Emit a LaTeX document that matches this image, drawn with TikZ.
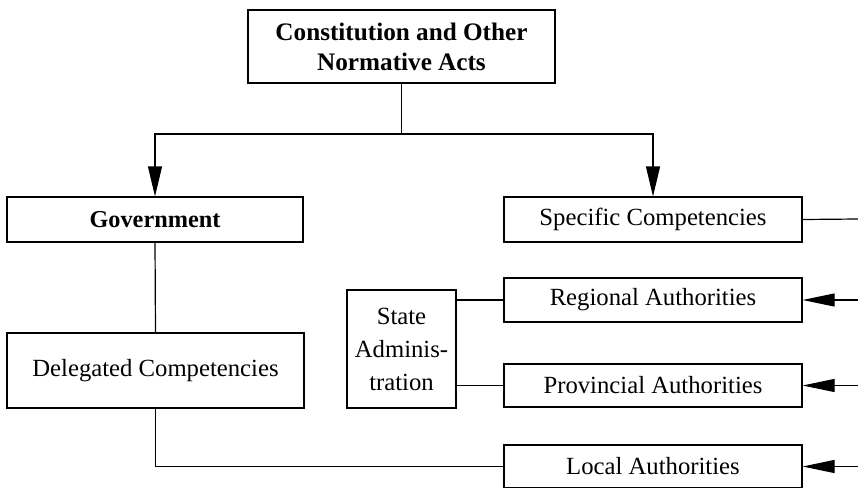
\documentclass[tikz,border=0pt]{standalone}
\usepackage{fontspec}
\setmainfont{Liberation Serif}
\usetikzlibrary{arrows.meta}
\begin{document}
\begin{tikzpicture}[x=1pt,y=-1pt,
  every node/.style={font=\fontsize{24.7}{30}\selectfont},
  box/.style={draw, line width=1.2pt, inner sep=0pt, align=center},
  link/.style={line width=1.2pt},
  down/.style={link, -{Triangle[length=30pt,width=14pt]}},
  feed/.style={link, -{Triangle[length=32pt,width=13pt]}}]
  \useasboundingbox (0,0) rectangle (858,487);

  % boxes
  \node[box, minimum width=307pt, minimum height=73pt, font=\bfseries\fontsize{25.2}{30}\selectfont]
    (top) at (401.5,46.5) {Constitution and Other\\Normative Acts};
  \node[box, minimum width=296pt, minimum height=45pt, font=\bfseries\fontsize{24.3}{30}\selectfont]
    (gov) at (155,219.5) {Government};
  \node[box, minimum width=298pt, minimum height=45pt] (spec) at (653,219.5) {Specific Competencies};
  \node[box, minimum width=297pt, minimum height=75pt] (deleg) at (155.5,370.5) {Delegated Competencies};
  \node[box, minimum width=109pt, minimum height=118pt, font=\fontsize{24.7}{33}\selectfont]
    (state) at (401.5,349) {State\\Adminis-\\tration};
  \node[box, minimum width=298pt, minimum height=44pt] (reg) at (653,300) {Regional Authorities};
  \node[box, minimum width=298pt, minimum height=43pt] (prov) at (653,385.5) {Provincial Authorities};
  \node[box, minimum width=298pt, minimum height=43pt] (local) at (653,466.5) {Local Authorities};

  % free ends and branch point
  \coordinate (split) at (401.5,134);
  \coordinate (outS) at (858,219);
  \coordinate (inR) at (858,300);
  \coordinate (inP) at (858,385.5);
  \coordinate (inL) at (858,466.5);

  % connectors
  \draw[link] (top.south) -- (split);
  \draw[down] (split) -| (gov.north);
  \draw[down] (split) -| (spec.north);
  \draw[link] (spec.east) -- (outS);
  \draw[feed] (inR) -- (reg.east);
  \draw[feed] (inP) -- (prov.east);
  \draw[feed] (inL) -- (local.east);
  \draw[link] (gov.south) -- (deleg.north);
  \draw[link] (deleg.south) |- (local.west);
  \draw[link] (state.east |- reg.west) -- (reg.west);
  \draw[link] (state.east |- prov.west) -- (prov.west);
\end{tikzpicture}
\end{document}
